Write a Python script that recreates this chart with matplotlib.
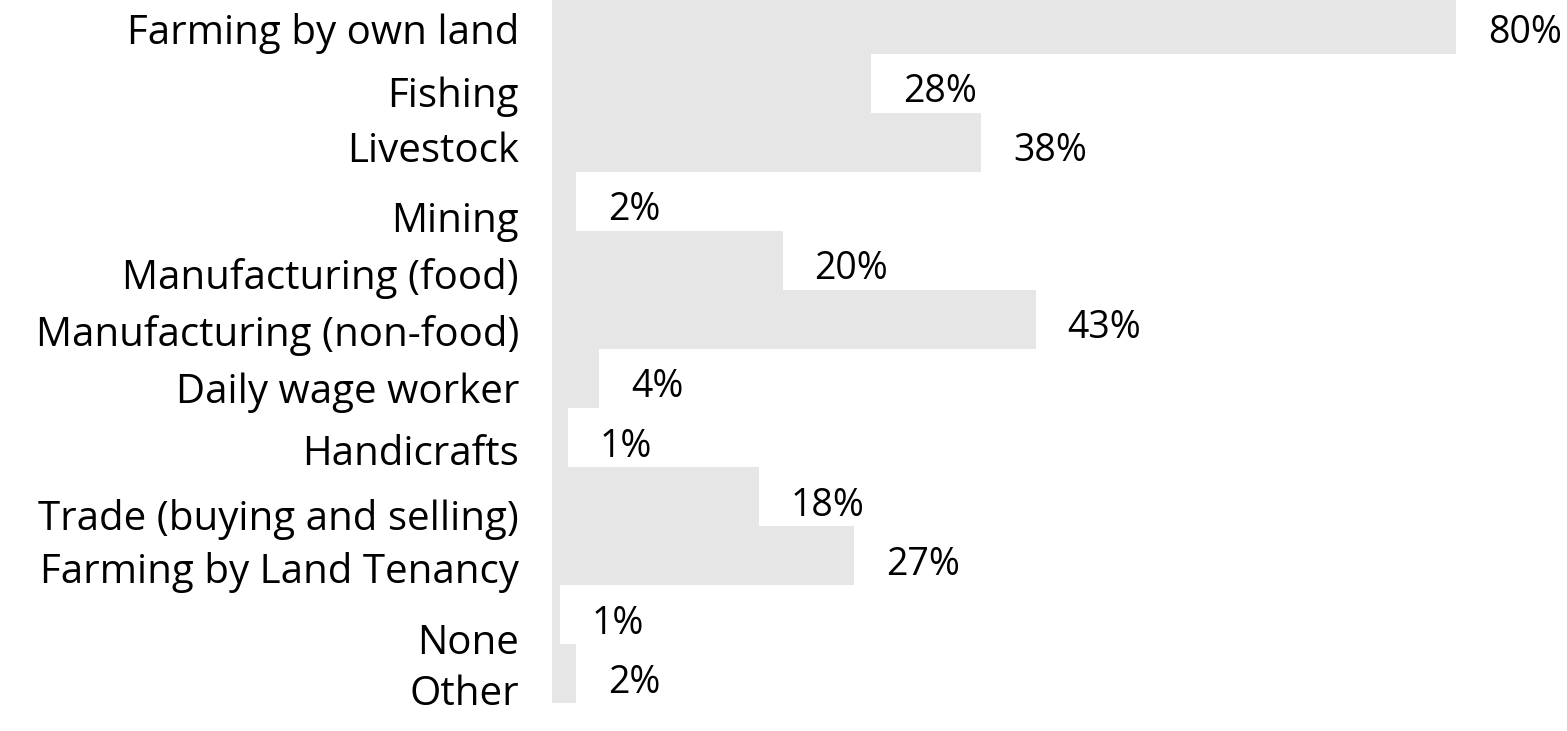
import numpy as np
import matplotlib.pyplot as plt
from matplotlib import transforms

# ----------------------------
# Data
# ----------------------------
categories = [
    "Farming by own land",
    "Fishing",
    "Livestock",
    "Mining",
    "Manufacturing (food)",
    "Manufacturing (non-food)",
    "Daily wage worker",
    "Handicrafts",
    "Trade (buying and selling)",
    "Farming by Land Tenancy",
    "None",
    "Other",
]
shares = [80.0, 28.2, 38.0, 2.1, 20.4, 42.8, 4.2, 1.4, 18.3, 26.7, 0.7, 2.1]
value_labels = ["80%", "28%", "38%", "2%", "20%", "43%", "4%", "1%", "18%", "27%", "1%", "2%"]

# category labels are not quite centred on their bars in the original (px, downwards)
label_nudge_px = [6, 10, 6, 17, 15, 13, 11, 14, 20, 14, 26, 18]

BAR_COLOR = "#e6e6e6"
FONT = ["Open Sans", "DejaVu Sans"]
FS_CAT = 29
FS_VAL = 27

# ----------------------------
# Figure
# ----------------------------
W, H = 1567, 731
fig = plt.figure(figsize=(W / 100, H / 100), dpi=100)
ax = fig.add_axes([552 / W, 0, 1 - 552 / W, 1])

y = np.arange(len(categories))
ax.barh(y, shares, height=1.0, color=BAR_COLOR, linewidth=0)

ax.set_xlim(0, (W - 552) / 11.3)
ax.set_ylim(11.97, -0.41)
ax.axis("off")

# value labels, right of each bar
pad = transforms.offset_copy(ax.transData, fig=fig, x=32, y=-9, units="dots")
for yi, v, lab in zip(y, shares, value_labels):
    ax.text(v, yi, lab, transform=pad, ha="left", va="center",
            fontsize=FS_VAL, family=FONT, color="black")

# category labels, right aligned left of the bars
for yi, name, dy in zip(y, categories, label_nudge_px):
    tr = transforms.offset_copy(ax.transData, fig=fig, x=-33, y=-dy - 3, units="dots")
    ax.text(0, yi, name, transform=tr, ha="right", va="center",
            fontsize=FS_CAT, family=FONT, color="black", clip_on=False)

fig.savefig("out.png", dpi=100)
